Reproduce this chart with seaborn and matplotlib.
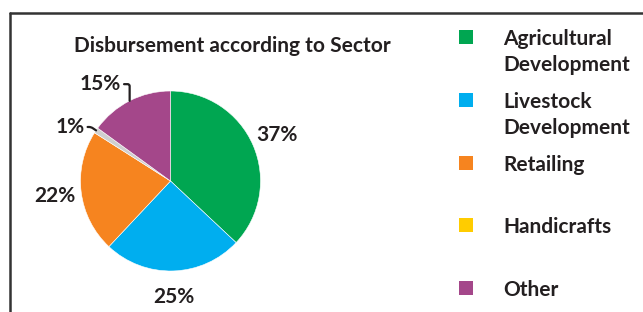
import numpy as np
import matplotlib
matplotlib.use("Agg")
import matplotlib.pyplot as plt
import seaborn as sns
from matplotlib.patches import Rectangle
from matplotlib.lines import Line2D

# data
sectors = ["Agricultural\nDevelopment", "Livestock\nDevelopment", "Retailing", "Handicrafts", "Other"]
shares = [37, 25, 22, 1, 15]
legend_colors = ["#00A651", "#00AEEF", "#F6841F", "#FFCC00", "#A4478A"]
pie_colors = ["#00A651", "#00AEEF", "#F6841F", "#CFCFCF", "#A4478A"]
title = "Disbursement according to Sector"

sns.set_theme(style="white")
plt.rcParams["font.family"] = ["Lato", "DejaVu Sans"]
txt_col = "#231F20"
fs = 15

W, H = 643, 312
fig = plt.figure(figsize=(W / 100, H / 100), dpi=100)
fig.patch.set_facecolor("white")

# pie axes: centre ~ (170,181) px, radius ~90 px
cx, cy, R = 170.5, 181, 90
ax = fig.add_axes([(cx - R) / W, (H - cy - R) / H, 2 * R / W, 2 * R / H])
wedges, _ = ax.pie(shares, colors=pie_colors, startangle=90, counterclock=False,
                   radius=1, wedgeprops=dict(edgecolor="white", linewidth=0.4))
ax.set_xlim(-1, 1)
ax.set_ylim(-1, 1)
ax.set_aspect("equal")
ax.axis("off")

# percentage labels
tweak = {3: (6, 1.27), 4: (9, 1.33)}  # angle shift, radius for leader-line labels
for i, w in enumerate(wedges):
    mid = np.deg2rad((w.theta1 + w.theta2) / 2)
    lab = f"{shares[i]}%"
    if i in tweak:
        dang, r = tweak[i]
        a2 = mid + np.deg2rad(dang)
        tx, ty = r * np.cos(a2), r * np.sin(a2)
        ex, ey = np.cos(mid), np.sin(mid)
        if i == 4:
            cs = "angle,angleA=0,angleB=90,rad=2"
        else:
            cs = "angle,angleA=0,angleB=%f,rad=2" % np.rad2deg(mid)
        ax.annotate(lab, xy=(ex, ey), xytext=(tx, ty), ha="center", va="center",
                    fontsize=fs, fontweight="bold", color=txt_col,
                    arrowprops=dict(arrowstyle="-", color=txt_col, lw=1.6,
                                    connectionstyle=cs, shrinkA=15, shrinkB=0),
                    annotation_clip=False)
    else:
        ax.text(1.29 * np.cos(mid), 1.29 * np.sin(mid), lab, ha="center", va="center",
                fontsize=fs, fontweight="bold", color=txt_col, clip_on=False)

fig.text(232 / W, 1 - 46 / H, title, ha="center", va="center",
         fontsize=fs, fontweight="bold", color=txt_col)

# legend, drawn by hand to keep the wide spacing
for k, (lab, col) in enumerate(zip(sectors, legend_colors)):
    yc = 37 + k * 62.8
    fig.patches.append(Rectangle((459 / W, 1 - (yc + 7) / H), 14 / W, 14 / H,
                                 transform=fig.transFigure, facecolor=col,
                                 edgecolor="none"))
    fig.text(503 / W, 1 - (yc - 8) / H, lab, ha="left", va="top", fontsize=fs,
             fontweight="bold", color=txt_col, linespacing=1.38)

# frame (top and left edges visible)
fig.lines.append(Line2D([10 / W, 1.0], [1 - 13 / H, 1 - 13 / H], transform=fig.transFigure,
                        color="#333333", lw=1.8))
fig.lines.append(Line2D([10 / W, 10 / W], [1 - 13 / H, 0], transform=fig.transFigure,
                        color="#333333", lw=1.8))

fig.savefig("out.png", dpi=100)
